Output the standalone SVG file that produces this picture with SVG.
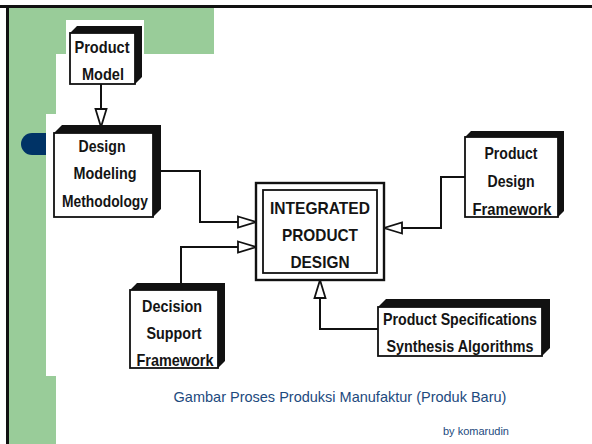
<svg xmlns="http://www.w3.org/2000/svg" width="592" height="444" viewBox="0 0 592 444">
  <style>
    .lbl { font-family: "Liberation Sans", Arial, sans-serif; font-size: 17px; font-weight: bold; fill: #141414; text-anchor: middle; }
    .face { fill: #fff; stroke: #111; stroke-width: 1.8; }
    .depth { fill: #111; }
    .wire { fill: none; stroke: #111; stroke-width: 2; }
    .caption { font-family: "Liberation Sans", Arial, sans-serif; fill: #1d4a7e; }
  </style>
  <defs>
    <marker id="open-tri" markerUnits="userSpaceOnUse" markerWidth="22" markerHeight="14" refX="18" refY="6" orient="auto" viewBox="-1 -1 22 14">
      <path d="M0,0.5 L18,6 L0,11.5 Z" fill="#fff" stroke="#111" stroke-width="1.8"/>
    </marker>
  </defs>

  <!-- slide background -->
  <rect x="0" y="0" width="592" height="444" fill="#fff"/>
  <rect x="9" y="8" width="47" height="436" fill="#99cc99"/>
  <rect x="9" y="8" width="205" height="46" fill="#99cc99"/>
  <rect x="56" y="54" width="560" height="420" rx="15" fill="#fff"/>
  <line x1="0" y1="6.5" x2="592" y2="6.5" stroke="#111" stroke-width="3"/>
  <line x1="7.5" y1="5" x2="7.5" y2="444" stroke="#111" stroke-width="3"/>
  <rect x="21" y="133" width="40" height="22" rx="11" fill="#003366"/>

  <!-- figure panels -->
  <rect x="46" y="114" width="520" height="262" fill="#fff"/>
  <rect x="66" y="20" width="78" height="111" fill="#fff"/>

  <!-- connectors -->
  <g id="connectors">
    <path class="wire" d="M101,84 V127" marker-end="url(#open-tri)"/>
    <path class="wire" d="M153,171 H200 V222 H256" marker-end="url(#open-tri)"/>
    <path class="wire" d="M181,284 V247 H256" marker-end="url(#open-tri)"/>
    <path class="wire" d="M465,177 H441 V228 H384" marker-end="url(#open-tri)"/>
    <path class="wire" d="M378,329 H320 V280" marker-end="url(#open-tri)"/>
  </g>

  <g id="product-model">
    <polygon class="depth" points="70,33 77,26 142,26 142,77 135,84 135,33"/>
    <rect class="face" x="70" y="33" width="65" height="51"/>
    <text class="lbl" x="102" y="53" textLength="55" lengthAdjust="spacingAndGlyphs">Product</text>
    <text class="lbl" x="103" y="80" textLength="42" lengthAdjust="spacingAndGlyphs">Model</text>
  </g>

  <g id="design-modeling-methodology">
    <polygon class="depth" points="54,133 62,125 161,125 161,209 153,217 153,133"/>
    <rect class="face" x="54" y="133" width="99" height="84"/>
    <text class="lbl" x="102" y="152" textLength="47" lengthAdjust="spacingAndGlyphs">Design</text>
    <text class="lbl" x="105" y="179" textLength="63" lengthAdjust="spacingAndGlyphs">Modeling</text>
    <text class="lbl" x="105" y="207" textLength="86" lengthAdjust="spacingAndGlyphs">Methodology</text>
  </g>

  <g id="integrated-product-design">
    <rect x="256" y="183" width="128" height="97" fill="#fff" stroke="#111" stroke-width="2.4"/>
    <rect x="263" y="190" width="114" height="83" fill="none" stroke="#111" stroke-width="1.8"/>
    <text class="lbl" x="320" y="214" textLength="100" lengthAdjust="spacingAndGlyphs">INTEGRATED</text>
    <text class="lbl" x="320" y="241" textLength="76" lengthAdjust="spacingAndGlyphs">PRODUCT</text>
    <text class="lbl" x="320" y="268" textLength="59" lengthAdjust="spacingAndGlyphs">DESIGN</text>
  </g>

  <g id="product-design-framework">
    <polygon class="depth" points="465,137 471,131 564,131 564,211 558,217 558,137"/>
    <rect class="face" x="465" y="137" width="93" height="80"/>
    <text class="lbl" x="511" y="159" textLength="53" lengthAdjust="spacingAndGlyphs">Product</text>
    <text class="lbl" x="511" y="187" textLength="47" lengthAdjust="spacingAndGlyphs">Design</text>
    <text class="lbl" x="512" y="215" textLength="79" lengthAdjust="spacingAndGlyphs">Framework</text>
  </g>

  <g id="decision-support-framework">
    <polygon class="depth" points="130,290 137,283 225,283 225,361 218,368 218,290"/>
    <rect class="face" x="130" y="290" width="88" height="78"/>
    <text class="lbl" x="172" y="312" textLength="60" lengthAdjust="spacingAndGlyphs">Decision</text>
    <text class="lbl" x="174" y="339" textLength="55" lengthAdjust="spacingAndGlyphs">Support</text>
    <text class="lbl" x="175" y="366" textLength="77" lengthAdjust="spacingAndGlyphs">Framework</text>
  </g>

  <g id="product-specifications-synthesis">
    <polygon class="depth" points="378,307 386,299 550,299 550,348 542,356 542,307"/>
    <rect class="face" x="378" y="307" width="164" height="49"/>
    <text class="lbl" x="460" y="325" textLength="154" lengthAdjust="spacingAndGlyphs">Product Specifications</text>
    <text class="lbl" x="460" y="352" textLength="147" lengthAdjust="spacingAndGlyphs">Synthesis Algorithms</text>
  </g>

  <!-- captions -->
  <text class="caption" x="340" y="402" font-size="14.5" text-anchor="middle">Gambar Proses Produksi Manufaktur (Produk Baru)</text>
  <text class="caption" x="509" y="435" font-size="11" text-anchor="end">by komarudin</text>
</svg>
